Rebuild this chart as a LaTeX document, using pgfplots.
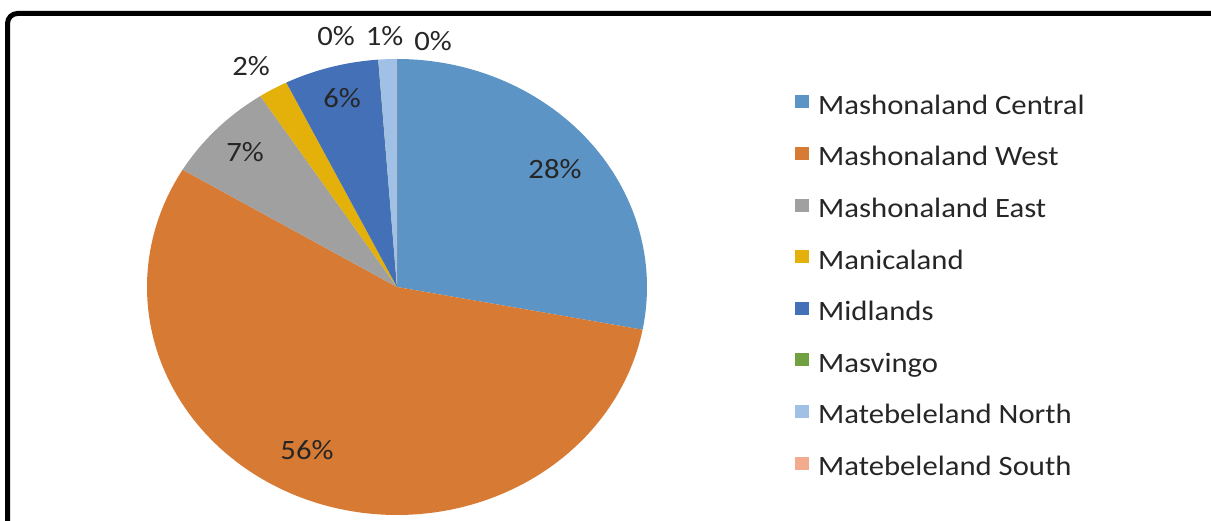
\documentclass[border=0pt]{standalone}
\usepackage{fontspec}
\setmainfont{Carlito}[FakeStretch=1.096]
\usepackage{pgfplots}
\pgfplotsset{compat=1.18}
\definecolor{cA}{HTML}{5B94C5}
\definecolor{cB}{HTML}{D77A33}
\definecolor{cC}{HTML}{A0A0A0}
\definecolor{cD}{HTML}{E4B00A}
\definecolor{cE}{HTML}{4470B8}
\definecolor{cF}{HTML}{70A040}
\definecolor{cG}{HTML}{A0C0E6}
\definecolor{cH}{HTML}{F2AB8C}
% slice values (percent)
\def\vA{28.0}\def\vB{55.6}\def\vC{7.2}\def\vD{1.9}
\def\vE{6.1}\def\vF{0.01}\def\vG{1.18}\def\vH{0.01}
\pgfmathsetmacro\aA{90}
\pgfmathsetmacro\aB{\aA-3.6*\vA}
\pgfmathsetmacro\aC{\aB-3.6*\vB}
\pgfmathsetmacro\aD{\aC-3.6*\vC}
\pgfmathsetmacro\aE{\aD-3.6*\vD}
\pgfmathsetmacro\aF{\aE-3.6*\vE}
\pgfmathsetmacro\aG{\aF-3.6*\vF}
\pgfmathsetmacro\aH{\aG-3.6*\vG}
\pgfmathsetmacro\aI{\aH-3.6*\vH}
\newcommand\lblfont{\fontsize{28bp}{30bp}\selectfont}
\begin{document}
\begin{tikzpicture}
\useasboundingbox (0bp,0bp) rectangle (1211bp,521bp);
\clip (0bp,0bp) rectangle (1211bp,521bp);
\draw[line width=5bp, rounded corners=10bp] (7.5bp,-30bp) -- (7.5bp,507.5bp) -- (1260bp,507.5bp);
\begin{axis}[
  at={(397bp,234bp)}, anchor=origin,
  x=250bp, y=228bp,
  xmin=-1, xmax=1, ymin=-1, ymax=1,
  hide axis, clip=false,
  legend style={at={(axis description cs:1.296,0.923)}, anchor=north west,
    draw=none, fill=none, inner sep=0pt, row sep=25.6bp,
    font=\lblfont, text=black!85,
    nodes={inner sep=0pt, text height=20bp, text depth=6bp},
    /tikz/every odd column/.append style={column sep=9bp}},
  legend cell align=left,
  legend image code/.code={\fill[#1] (0bp,-1bp) rectangle (14bp,12bp);},
]
\addplot[fill=cA, draw=none, domain=\aB:\aA, samples=100, variable=\t] ({cos(\t)},{sin(\t)}) -- (axis cs:0,0) -- cycle;
\addlegendentry{Mashonaland Central}
\addplot[fill=cB, draw=none, domain=\aC:\aB, samples=180, variable=\t] ({cos(\t)},{sin(\t)}) -- (axis cs:0,0) -- cycle;
\addlegendentry{Mashonaland West}
\addplot[fill=cC, draw=none, domain=\aD:\aC, samples=30, variable=\t] ({cos(\t)},{sin(\t)}) -- (axis cs:0,0) -- cycle;
\addlegendentry{Mashonaland East}
\addplot[fill=cD, draw=none, domain=\aE:\aD, samples=10, variable=\t] ({cos(\t)},{sin(\t)}) -- (axis cs:0,0) -- cycle;
\addlegendentry{Manicaland}
\addplot[fill=cE, draw=none, domain=\aF:\aE, samples=30, variable=\t] ({cos(\t)},{sin(\t)}) -- (axis cs:0,0) -- cycle;
\addlegendentry{Midlands}
\addplot[fill=cF, draw=none, domain=\aG:\aF, samples=2, variable=\t] ({cos(\t)},{sin(\t)}) -- (axis cs:0,0) -- cycle;
\addlegendentry{Masvingo}
\addplot[fill=cG, draw=none, domain=\aH:\aG, samples=6, variable=\t] ({cos(\t)},{sin(\t)}) -- (axis cs:0,0) -- cycle;
\addlegendentry{Matebeleland North}
\addplot[fill=cH, draw=none, domain=\aI:\aH, samples=2, variable=\t] ({cos(\t)},{sin(\t)}) -- (axis cs:0,0) -- cycle;
\addlegendentry{Matebeleland South}
\node[font=\lblfont, text=black!85] at (axis cs:0.632,0.518) {28\%};
\node[font=\lblfont, text=black!85] at (axis cs:-0.36,-0.715) {56\%};
\node[font=\lblfont, text=black!85] at (axis cs:-0.608,0.590) {7\%};
\node[font=\lblfont, text=black!85] at (axis cs:-0.584,0.967) {2\%};
\node[font=\lblfont, text=black!85] at (axis cs:-0.22,0.827) {6\%};
\node[font=\lblfont, text=black!85] at (axis cs:-0.244,1.099) {0\%};
\node[font=\lblfont, text=black!85] at (axis cs:-0.05,1.099) {1\%};
\node[font=\lblfont, text=black!85] at (axis cs:0.144,1.079) {0\%};
\end{axis}
\end{tikzpicture}
\end{document}
